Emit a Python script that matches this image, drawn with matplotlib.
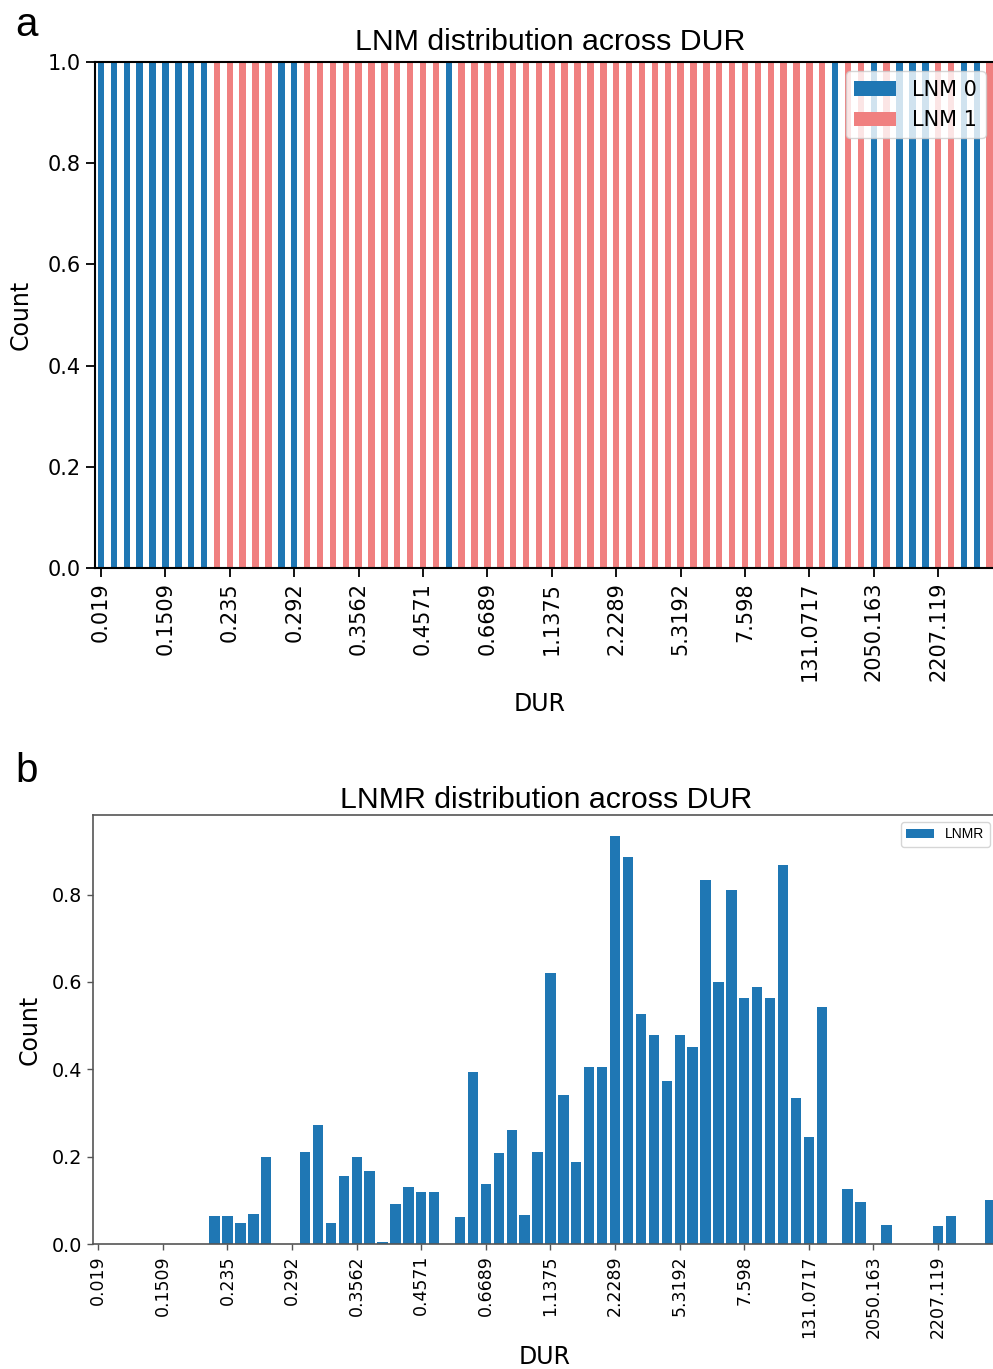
import matplotlib
matplotlib.use('Agg')
import matplotlib.pyplot as plt
import numpy as np

# DUR categories (70 bins), only every 5th one is labelled on the axis
dur_ticks = ['0.019', '0.1509', '0.235', '0.292', '0.3562', '0.4571', '0.6689',
             '1.1375', '2.2289', '5.3192', '7.598', '131.0717', '2050.163', '2207.119']

# panel a: 1 = LNM 0 (blue), 0 = LNM 1 (pink)
lnm0 = [1, 1, 1, 1, 1, 1, 1, 1, 1, 0,
        0, 0, 0, 0, 1, 1, 0, 0, 0, 0,
        0, 0, 0, 0, 0, 0, 0, 1, 0, 0,
        0, 0, 0, 0, 0, 0, 0, 0, 0, 0,
        0, 0, 0, 0, 0, 0, 0, 0, 0, 0,
        0, 0, 0, 0, 0, 0, 0, 1, 0, 0,
        1, 0, 1, 1, 1, 0, 0, 1, 1, 0]

# panel b: LNMR per DUR bin
lnmr = [0, 0, 0, 0, 0, 0, 0, 0, 0, 0.063,
        0.063, 0.047, 0.069, 0.2, 0, 0, 0.211, 0.273, 0.047, 0.156,
        0.2, 0.167, 0.005, 0.091, 0.13, 0.118, 0.12, 0, 0.061, 0.393,
        0.137, 0.208, 0.261, 0.066, 0.211, 0.62, 0.341, 0.187, 0.406, 0.406,
        0.935, 0.886, 0.526, 0.479, 0.374, 0.479, 0.451, 0.834, 0.6, 0.811,
        0.564, 0.588, 0.563, 0.867, 0.334, 0.244, 0.542, 0, 0.125, 0.097,
        0, 0.0435, 0, 0, 0, 0.041, 0.063, 0, 0, 0.1]

x = np.arange(len(lnm0))
lnm0 = np.array(lnm0)
lnm1 = 1 - lnm0
tick_pos = x[::5]

W, H = 993, 1369
fig = plt.figure(figsize=(W / 100, H / 100), dpi=100)

blue = '#1f77b4'
pink = '#f08080'
arial = 'Liberation Sans'

# ---------- a ----------
ax1 = fig.add_axes([95 / W, 1 - 568 / H, 900 / W, 506 / H])
ax1.bar(x, lnm0, width=0.5, color=blue, label='LNM 0')
ax1.bar(x, lnm1, width=0.5, bottom=lnm0, color=pink, label='LNM 1')
ax1.set_xlim(-0.466, 69.41)
ax1.set_ylim(0, 1)
ax1.set_yticks(np.arange(0, 1.01, 0.2))
ax1.set_xticks(tick_pos)
ax1.set_xticklabels(dur_ticks, rotation=90)
ax1.tick_params(labelsize=15, length=6.5, width=1.3, pad=3.5)
for s in ax1.spines.values():
    s.set_linewidth(1.5)
    s.set_color('black')
ax1.set_title('LNM distribution across DUR', fontsize=21.8, family=arial,
              x=0.5055, pad=8.5)
ax1.set_ylabel('Count', fontsize=17)
ax1.yaxis.set_label_coords((33 - 95) / 900, 0.5)
ax1.set_xlabel('DUR', fontsize=17)
ax1.xaxis.set_label_coords(0.5 - 5 / 900, (568 - 692) / 506)
ax1.legend(loc='upper right', fontsize=15, borderaxespad=0.45)

# ---------- b ----------
ax2 = fig.add_axes([93 / W, 1 - 1244 / H, 904 / W, 429 / H])
ax2.bar(x, lnmr, width=0.8, color=blue, label='LNMR')
ax2.set_xlim(-0.41, 69.56)
ax2.set_ylim(0, 0.982)
ax2.set_yticks(np.arange(0, 0.81, 0.2))
ax2.set_xticks(tick_pos)
ax2.set_xticklabels(dur_ticks, rotation=90)
ax2.tick_params(length=4, width=1, color='#555555', pad=4)
ax2.tick_params(axis='x', labelsize=12.5)
ax2.tick_params(axis='y', labelsize=13.8)
for s in ax2.spines.values():
    s.set_linewidth(1.2)
    s.set_color('#555555')
ax2.set_title('LNMR distribution across DUR', fontsize=21.8, family=arial,
              x=0.501, pad=5)
ax2.set_ylabel('Count', fontsize=17)
ax2.yaxis.set_label_coords((42 - 93) / 904, 0.5)
ax2.set_xlabel('DUR', fontsize=17)
ax2.xaxis.set_label_coords(0.5, (1244 - 1345) / 429)
ax2.legend(loc='upper right', prop={'family': arial, 'size': 10})

fig.text(15 / W, 1 - 36 / H, 'a', fontsize=29, family=arial, va='baseline')
fig.text(15 / W, 1 - 782 / H, 'b', fontsize=29, family=arial, va='baseline')

fig.savefig('out.png', dpi=100)
